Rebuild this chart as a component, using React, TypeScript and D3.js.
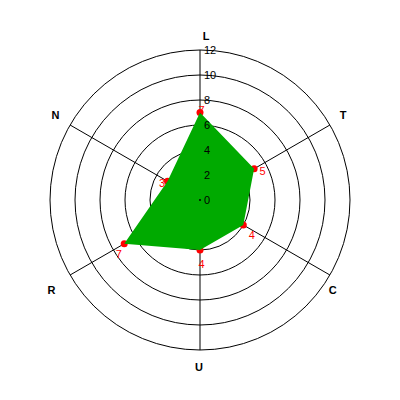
import React from "react";
import * as d3 from "d3";

const categories = ["L", "T", "C", "U", "R", "N"];
const values = [7, 5, 4, 4, 7, 3];
const ringTicks = [0, 2, 4, 6, 8, 10, 12];

const W = 400;
const H = 400;
const cx = 200;
const cy = 200;
const maxR = 150;

export default function App() {
  const r = d3.scaleLinear().domain([0, 12]).range([0, maxR]);
  const angle = d3
    .scaleLinear()
    .domain([0, categories.length])
    .range([0, 2 * Math.PI]);
  const pos = (i: number, v: number): [number, number] => {
    const a = angle(i);
    return [cx + r(v) * Math.sin(a), cy - r(v) * Math.cos(a)];
  };
  const radial = (i: number): [number, number] => {
    const a = angle(i);
    return [Math.sin(a), -Math.cos(a)];
  };
  const pts = values.map((v, i) => pos(i, v));
  const line = d3.line().curve(d3.curveLinearClosed);

  const labelOffset = (i: number): [number, number] => {
    const [sx, sy] = radial(i);
    if (Math.abs(sx) < 0.01 && sy < 0) return [6, 3];
    if (Math.abs(sx) < 0.01) return [-1, 0];
    if (sy > 0) return sx > 0 ? [-12, 6.5] : [-4, 6.5];
    return sx > 0 ? [-1.5, -1.5] : [0, -1.5];
  };

  return (
    <svg
      width={W}
      height={H}
      style={{ position: "absolute", left: 0, top: 0, background: "#fff" }}
      fontFamily="Liberation Sans, Arial, sans-serif"
    >
      <rect width={W} height={H} fill="#fff" />
      {ringTicks
        .filter((t) => t > 0)
        .map((t) => (
          <circle
            key={t}
            cx={cx}
            cy={cy}
            r={r(t)}
            fill="none"
            stroke="#000"
            strokeWidth={1}
          />
        ))}
      {categories.map((c, i) => {
        const [x, y] = pos(i, 12);
        return (
          <line key={c} x1={cx} y1={cy} x2={x} y2={y} stroke="#000" strokeWidth={1} />
        );
      })}
      {values.map((v, i) => {
        const [x, y] = pts[i];
        return <circle key={"p" + i} cx={x} cy={y} r={3.5} fill="#ff0000" />;
      })}
      <path d={line(pts) || ""} fill="#00aa00" stroke="none" />
      <circle cx={cx} cy={cy} r={1} fill="#000" />
      {ringTicks.map((t) => (
        <text
          key={"t" + t}
          x={cx + 4}
          y={cy - r(t)}
          dy="0.35em"
          fontSize={11}
          fill="#000"
        >
          {t}
        </text>
      ))}
      {values.map((v, i) => {
        const [x, y] = pts[i];
        const [sx, sy] = radial(i);
        return (
          <text
            key={"v" + i}
            x={x + 1.5 + sx * 8}
            y={y + 6 + sy * 8}
            dy="0.35em"
            textAnchor="middle"
            fontSize={11}
            fill="#ff0000"
          >
            {v}
          </text>
        );
      })}
      {categories.map((c, i) => {
        const [x, y] = pos(i, 13.36);
        const [ox, oy] = labelOffset(i);
        return (
          <text
            key={"c" + c}
            x={x + ox}
            y={y + oy}
            dy="0.35em"
            textAnchor="middle"
            fontSize={11}
            fontWeight="bold"
            fill="#000"
          >
            {c}
          </text>
        );
      })}
    </svg>
  );
}
